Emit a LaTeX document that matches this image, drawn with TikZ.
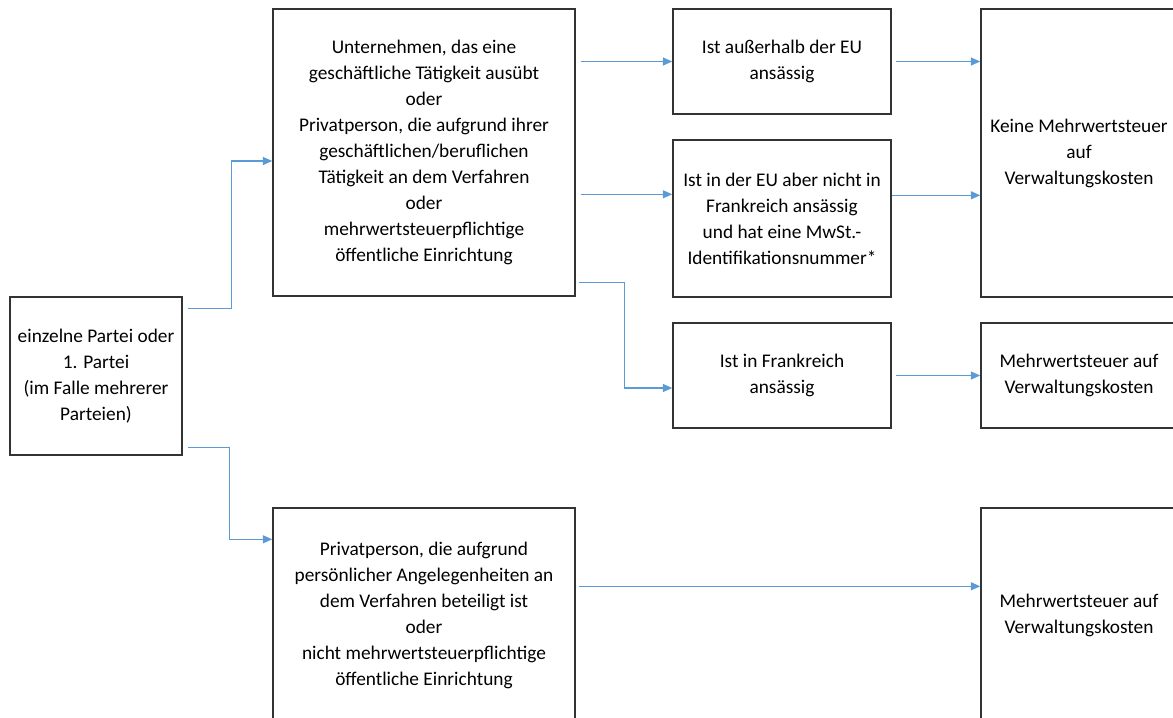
\documentclass[tikz,border=0pt]{standalone}
\usepackage{fontspec}
\setmainfont{Carlito}
\usetikzlibrary{arrows.meta, calc}
\definecolor{arrowblue}{HTML}{5B9BD5}

\begin{document}
\begin{tikzpicture}[x=0.02cm, y=-0.02cm,
  box/.style={draw=black!80, line width=0.8pt, inner sep=0pt, align=center,
    font=\fontsize{11}{14.8}\selectfont},
  pfeil/.style={draw=arrowblue, line width=0.8pt,
    -{Triangle[length=0.19cm, width=0.16cm]}}]

\newcommand{\px}{0.02cm}

\useasboundingbox (0,0) rectangle (1173,717);
\clip (0,0) rectangle (1173,717);

% Partei
\node [box, minimum width=172*\px, minimum height=158*\px] (einzel) at (96,376)
  {einzelne Partei oder\\1. Partei\\(im Falle mehrerer\\Parteien)};

% Art der Partei
\node [box, minimum width=302*\px, minimum height=287*\px] (unternehmen) at (424,152.5)
  {Unternehmen, das eine\\geschäftliche Tätigkeit ausübt\\oder\\Privatperson, die aufgrund ihrer\\geschäftlichen/beruflichen\\Tätigkeit an dem Verfahren\\oder\\mehrwertsteuerpflichtige\\öffentliche Einrichtung};
\node [box, minimum width=302*\px, minimum height=214*\px] (privat) at (424,615)
  {Privatperson, die aufgrund\\persönlicher Angelegenheiten an\\dem Verfahren beteiligt ist\\oder\\nicht mehrwertsteuerpflichtige\\öffentliche Einrichtung};

% Sitz
\node [box, minimum width=218*\px, minimum height=105*\px] (ausserhalb) at (782,61.5)
  {Ist außerhalb der EU\\ansässig};
\node [box, minimum width=218*\px, minimum height=157*\px] (eu) at (782,218.5)
  {Ist in der EU aber nicht in\\Frankreich ansässig\\und hat eine MwSt.-\\Identifikationsnummer*};
\node [box, minimum width=218*\px, minimum height=105*\px] (frankreich) at (782,375.5)
  {Ist in Frankreich\\ansässig};

% Ergebnis
\node [box, minimum width=196*\px, minimum height=288*\px] (keine) at (1079,153)
  {Keine Mehrwertsteuer\\auf\\Verwaltungskosten};
\node [box, minimum width=196*\px, minimum height=105*\px] (mwst) at (1079,375.5)
  {Mehrwertsteuer auf\\Verwaltungskosten};
\node [box, minimum width=196*\px, minimum height=214*\px] (mwstprivat) at (1079,615)
  {Mehrwertsteuer auf\\Verwaltungskosten};

\draw [pfeil] ([shift={(5,12)}]einzel.north east) -- ++(44,0) |- ([shift={(0,8.5)}]unternehmen.west);
\draw [pfeil] ([shift={(5,-8)}]einzel.south east) -- ++(42,0) |- ([shift={(0,32)}]privat.north west);

\draw [pfeil] ([shift={(5,0)}]unternehmen.east |- ausserhalb.west) -- (ausserhalb.west);
\draw [pfeil] ([shift={(5,55)}]unternehmen.east |- eu.north west) -- ([shift={(0,55)}]eu.north west);
\draw [pfeil] ([shift={(3,-14)}]unternehmen.south east) -- ++(46,0) |- ([shift={(0,12.5)}]frankreich.west);

\draw [pfeil] ([shift={(4,0)}]ausserhalb.east) -- (keine.west |- ausserhalb.east);
\draw [pfeil] ([shift={(0,56)}]eu.north east) -- ([shift={(0,187)}]keine.north west);
\draw [pfeil] ([shift={(4,0)}]frankreich.east) -- (mwst.west);
\draw [pfeil] ([shift={(3,79)}]privat.north east) -- ([shift={(0,79)}]mwstprivat.north west);

\end{tikzpicture}
\end{document}
